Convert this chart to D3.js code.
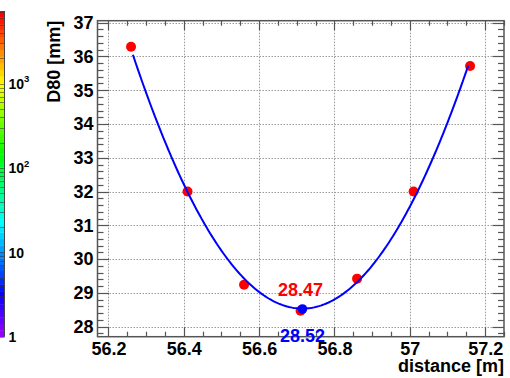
<!DOCTYPE html>
<html>
<head>
<meta charset="utf-8">
<script src="https://cdn.jsdelivr.net/npm/d3@7"></script>
<style>
  html, body { margin: 0; padding: 0; background: #fff; }
  svg { display: block; }
  text { font-family: "Liberation Sans", Arial, Helvetica, sans-serif; font-weight: bold; }
</style>
</head>
<body>
<svg id="chart" width="510" height="378"></svg>
<script>
// Measured beam width D80 versus distance along the line
const distance = [56.26, 56.41, 56.56, 56.71, 56.86, 57.01, 57.16];
const d80 = [36.29, 32.0, 29.24, 28.47, 29.42, 32.0, 35.72];

// Range over which the parabola fit is drawn
const fitRange = [56.265, 57.155];
// Minimum of the fitted parabola: [distance, D80]
const fitMinimum = [56.715, 28.52];

const xTicks = [56.2, 56.4, 56.6, 56.8, 57, 57.2];
const yTicks = [28, 29, 30, 31, 32, 33, 34, 35, 36, 37];
const xDomain = [56.171, 57.25];
const yDomain = [27.70, 37.06];

// Colour palette axis (log scale)
const paletteDomain = [1, 7270];
const paletteMajor = [1, 10, 100, 1000];
const paletteLabels = [["1", ""], ["10", ""], ["10", "2"], ["10", "3"]];

const svg = d3.select("#chart");
const frame = { left: 97.5, right: 504, top: 20.7, bottom: 336.7 };

const x = d3.scaleLinear().domain(xDomain).range([frame.left, frame.right]);
const y = d3.scaleLinear().domain(yDomain).range([frame.bottom, frame.top]);

// ---- palette strip on the far left ----
const pal = { x0: 0, x1: 4.5, top: 11, bottom: 336.7 };
const pScale = d3.scaleLog().domain(paletteDomain).range([pal.bottom, pal.top]);
const nColors = 50;
const bandH = (pal.bottom - pal.top) / nColors;
const palette = svg.append("g");
d3.range(nColors).forEach(i => {
  const hue = 275 * (1 - i / (nColors - 1));
  palette.append("rect")
    .attr("x", pal.x0).attr("width", pal.x1 - pal.x0)
    .attr("y", pal.bottom - (i + 1) * bandH).attr("height", bandH + 0.3)
    .attr("fill", d3.hsl(hue, 1, 0.5).formatHex());
});
const logTicks = pScale.ticks(40).filter(v => v >= paletteDomain[0] && v <= paletteDomain[1]);
palette.selectAll("line.pt").data(logTicks).join("line")
  .attr("x1", pal.x0).attr("x2", pal.x1)
  .attr("y1", d => Math.round(pScale(d)) + 0.5).attr("y2", d => Math.round(pScale(d)) + 0.5)
  .attr("stroke", "#333").attr("stroke-opacity", 0.55).attr("stroke-width", 1);
palette.append("line")
  .attr("x1", pal.x1).attr("x2", pal.x1).attr("y1", pal.top).attr("y2", pal.bottom)
  .attr("stroke", "#444").attr("stroke-width", 1);
paletteMajor.forEach((v, i) => {
  const t = svg.append("text")
    .attr("x", 8.5).attr("y", pScale(v) + 5.2)
    .attr("font-size", 14).attr("fill", "#000")
    .text(paletteLabels[i][0]);
  if (paletteLabels[i][1]) {
    t.append("tspan").attr("font-size", 9.5).attr("dy", -6.5).text(paletteLabels[i][1]);
  }
});

// ---- grid ----
const grid = svg.append("g").attr("stroke", "#9a9a9a").attr("stroke-width", 1).attr("stroke-dasharray", "1.5,1.5");
grid.selectAll("line.gx").data(xTicks).join("line")
  .attr("x1", d => Math.round(x(d)) + 0.5).attr("x2", d => Math.round(x(d)) + 0.5)
  .attr("y1", frame.top).attr("y2", frame.bottom);
grid.selectAll("line.gy").data(yTicks).join("line")
  .attr("x1", frame.left).attr("x2", frame.right)
  .attr("y1", d => Math.round(y(d)) + 0.5).attr("y2", d => Math.round(y(d)) + 0.5);

// ---- axes (ticks on all four sides) ----
const axisColor = "#555";
const xMinor = d3.range(56.2, 57.2501, 0.05).map(v => +v.toFixed(2)).filter(v => !xTicks.includes(v));
const yMinor = d3.range(27.8, 37.0001, 0.2).map(v => +v.toFixed(1)).filter(v => !yTicks.includes(v));

const xAxisB = d3.axisBottom(x).tickValues(xTicks).tickSize(0).tickPadding(5.2).tickFormat(d => String(d));
const gxb = svg.append("g").attr("transform", `translate(0,${frame.bottom})`).call(xAxisB);
gxb.select(".domain").remove();
gxb.selectAll("text").attr("font-size", 18).attr("fill", "#000").attr("dy", "0.71em")
  .attr("font-family", "'Liberation Sans', Arial, sans-serif").attr("font-weight", "bold");

const yAxisL = d3.axisLeft(y).tickValues(yTicks).tickSize(0).tickPadding(4).tickFormat(d => String(d));
const gyl = svg.append("g").attr("transform", `translate(${frame.left},0)`).call(yAxisL);
gyl.select(".domain").remove();
gyl.selectAll("text").attr("font-size", 18).attr("fill", "#000")
  .attr("font-family", "'Liberation Sans', Arial, sans-serif").attr("font-weight", "bold");

const ticks = svg.append("g").attr("stroke", axisColor).attr("stroke-width", 1.2);
function xTickLines(vals, len) {
  vals.forEach(v => {
    const px = Math.round(x(v)) + 0.5;
    ticks.append("line").attr("x1", px).attr("x2", px).attr("y1", frame.bottom).attr("y2", frame.bottom - len);
    ticks.append("line").attr("x1", px).attr("x2", px).attr("y1", frame.top).attr("y2", frame.top + len);
  });
}
function yTickLines(vals, len) {
  vals.forEach(v => {
    const py = Math.round(y(v)) + 0.5;
    ticks.append("line").attr("x1", frame.left).attr("x2", frame.left + len).attr("y1", py).attr("y2", py);
    ticks.append("line").attr("x1", frame.right).attr("x2", frame.right - len).attr("y1", py).attr("y2", py);
  });
}
xTickLines(xTicks, 9.5);
xTickLines(xMinor, 5);
yTickLines(yTicks, 11.5);
yTickLines(yMinor, 6);

svg.append("rect")
  .attr("x", frame.left).attr("y", frame.top)
  .attr("width", frame.right - frame.left).attr("height", frame.bottom - frame.top)
  .attr("fill", "none").attr("stroke", axisColor).attr("stroke-width", 1.5);

// ---- axis titles ----
svg.append("text")
  .attr("x", frame.right).attr("y", 372)
  .attr("text-anchor", "end").attr("font-size", 18).attr("fill", "#000")
  .text("distance [m]");
svg.append("text")
  .attr("transform", `translate(60,${frame.top}) rotate(-90)`)
  .attr("text-anchor", "end").attr("font-size", 18).attr("fill", "#000")
  .text("D80 [mm]");

// ---- least-squares parabola through the measurements ----
function fitParabola(xs, ys) {
  const x0 = d3.mean(xs);
  const S = [0, 0, 0, 0, 0], T = [0, 0, 0];
  xs.forEach((xv, i) => {
    const u = xv - x0;
    for (let k = 0; k < 5; k++) S[k] += Math.pow(u, k);
    for (let k = 0; k < 3; k++) T[k] += ys[i] * Math.pow(u, k);
  });
  const A = [[S[0], S[1], S[2], T[0]], [S[1], S[2], S[3], T[1]], [S[2], S[3], S[4], T[2]]];
  for (let c = 0; c < 3; c++) {
    for (let r = c + 1; r < 3; r++) {
      const f = A[r][c] / A[c][c];
      for (let k = c; k < 4; k++) A[r][k] -= f * A[c][k];
    }
  }
  const coef = [0, 0, 0];
  for (let r = 2; r >= 0; r--) {
    let s = A[r][3];
    for (let k = r + 1; k < 3; k++) s -= A[r][k] * coef[k];
    coef[r] = s / A[r][r];
  }
  return xv => { const u = xv - x0; return coef[0] + coef[1] * u + coef[2] * u * u; };
}
const fit = fitParabola(distance, d80);
const curve = d3.range(0, 201).map(i => {
  const xv = fitRange[0] + (fitRange[1] - fitRange[0]) * i / 200;
  return [xv, fit(xv)];
});

// ---- measured points ----
const points = distance.map((d, i) => ({ x: d, y: d80[i] }));
svg.append("g").selectAll("circle").data(points).join("circle")
  .attr("cx", d => x(d.x)).attr("cy", d => y(d.y)).attr("r", 5)
  .attr("fill", "#ff0000");

// fit curve
svg.append("path")
  .datum(curve)
  .attr("d", d3.line().x(d => x(d[0])).y(d => y(d[1])))
  .attr("fill", "none").attr("stroke", "#0000ff").attr("stroke-width", 2);

// fitted minimum
svg.append("circle")
  .attr("cx", x(fitMinimum[0])).attr("cy", y(fitMinimum[1])).attr("r", 4.8)
  .attr("fill", "#0000ff");

// value labels
const minIdx = d3.minIndex(d80);
svg.append("text")
  .attr("x", x(distance[minIdx])).attr("y", y(d80[minIdx]) - 15)
  .attr("text-anchor", "middle").attr("font-size", 18).attr("fill", "#ff0000")
  .text(d80[minIdx].toFixed(2));
svg.append("text")
  .attr("x", x(fitMinimum[0])).attr("y", y(fitMinimum[1]) + 32.5)
  .attr("text-anchor", "middle").attr("font-size", 18).attr("fill", "#0000ff")
  .text(fitMinimum[1].toFixed(2));
</script>
</body>
</html>
